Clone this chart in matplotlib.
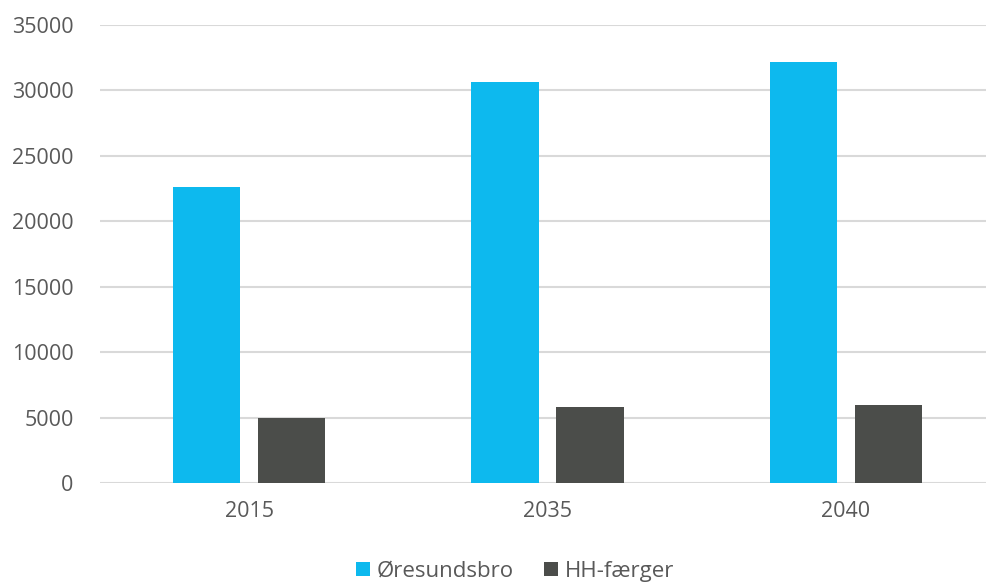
import numpy as np
import matplotlib.pyplot as plt

years = ['2015', '2035', '2040']
oresund = [22600, 30650, 32150]
hh_faerger = [4970, 5810, 5960]

plt.rcParams['font.family'] = ['Open Sans', 'DejaVu Sans']

fig = plt.figure(figsize=(9.86, 5.83), dpi=100)
ax = fig.add_axes([100 / 986, 1 - 483 / 583, 895 / 986, 458 / 583])

x = np.arange(len(years))
w = 0.225
ax.bar(x - 0.1425, oresund, w, color='#0DB9EE', label='Øresundsbro', zorder=3)
ax.bar(x + 0.1425, hh_faerger, w, color='#4B4D4A', label='HH-færger', zorder=3)

ax.set_xlim(-0.5, 2.5)
ax.set_ylim(0, 35000)
ax.set_yticks(range(0, 35001, 5000))
ax.set_xticks(x)
ax.set_xticklabels(years)
ax.grid(axis='y', color='#D9D9D9', linewidth=1.5, zorder=0)
for s in ax.spines.values():
    s.set_visible(False)
ax.tick_params(axis='both', length=0, labelsize=15.5, colors='#595959')
ax.tick_params(axis='y', pad=19)
ax.tick_params(axis='x', pad=13)

fig.legend(loc='center', bbox_to_anchor=(515 / 986, 1 - 571 / 583), ncol=2, frameon=False,
           fontsize=16, handlelength=0.6, handleheight=0.6, handletextpad=0.3,
           columnspacing=1.4, labelcolor='#595959')

fig.savefig('out.png', dpi=100)
